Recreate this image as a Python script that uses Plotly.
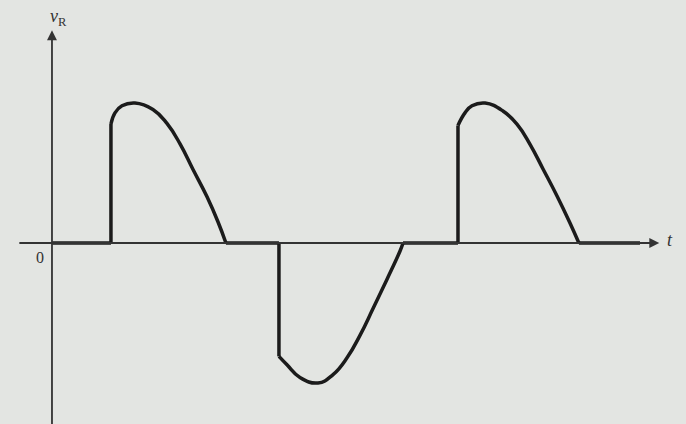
import plotly.graph_objects as go

# waveform (t in ms, v_R relative to peak)
t_flat1 = [0.0, 3.37]
t_hump1 = [3.37, 3.37, 3.6, 4.0, 4.74, 5.77, 6.57, 7.31, 8.06, 8.86, 9.49, 9.94]
v_hump1 = [0.0, 0.85, 0.93, 0.98, 1.0, 0.954, 0.854, 0.71, 0.525, 0.33, 0.15, 0.0]

t_flat2 = [9.94, 12.97]
t_neg = [12.97, 12.97, 13.43, 14.17, 15.2, 16.06, 16.86, 17.6, 18.34, 19.14, 19.89, 20.06]
v_neg = [0.0, -0.81, -0.87, -0.96, -1.0, -0.94, -0.82, -0.66, -0.47, -0.26, -0.057, 0.0]

t_flat3 = [20.06, 23.2]
t_hump2 = [23.2, 23.2, 23.6, 24.0, 24.75, 25.77, 26.57, 27.31, 28.06, 28.86, 29.6, 30.11]
v_hump2 = [0.0, 0.84, 0.93, 0.98, 1.0, 0.943, 0.85, 0.707, 0.529, 0.336, 0.143, 0.0]

t_flat4 = [30.11, 33.6]

ink = "#1b1b1b"
bg = "#e3e5e2"

fig = go.Figure()

# flat parts on the time axis
for tf in [t_flat1, t_flat2, t_flat3, t_flat4]:
    fig.add_trace(go.Scatter(x=tf, y=[0, 0], mode="lines",
                             line=dict(color=ink, width=3.5)))

# vertical jumps at firing (linear), then the curved part (spline)
for ts, vs in [(t_hump1, v_hump1), (t_neg, v_neg), (t_hump2, v_hump2)]:
    fig.add_trace(go.Scatter(x=ts[:2], y=vs[:2], mode="lines",
                             line=dict(color=ink, width=3.5)))
    fig.add_trace(go.Scatter(x=ts[1:], y=vs[1:], mode="lines",
                             line=dict(color=ink, width=3.5, shape="spline", smoothing=1.3)))

# axes with arrows
fig.add_annotation(x=0, y=1.52, ax=0, ay=-1.32, xref="x", yref="y", axref="x", ayref="y",
                   text="", showarrow=True, arrowhead=2, arrowsize=1.1, arrowwidth=1.8, arrowcolor="#333")
fig.add_annotation(x=34.7, y=0, ax=-1.95, ay=0, xref="x", yref="y", axref="x", ayref="y",
                   text="", showarrow=True, arrowhead=2, arrowsize=1.1, arrowwidth=1.8, arrowcolor="#333")

lab = dict(family="Liberation Serif, DejaVu Serif, serif", color="#333")
fig.add_annotation(x=0.35, y=1.61, text="<i>v</i><sub>R</sub>", showarrow=False,
                   font=dict(size=18, **lab))
fig.add_annotation(x=35.3, y=0.02, text="<i>t</i>", showarrow=False,
                   font=dict(size=18, **lab))
fig.add_annotation(x=-0.7, y=-0.1, text="0", showarrow=False,
                   font=dict(size=16, **lab))

fig.update_layout(
    width=686, height=424,
    margin=dict(l=0, r=0, t=0, b=0),
    paper_bgcolor=bg, plot_bgcolor=bg,
    showlegend=False,
    xaxis=dict(range=[-2.97, 36.23], visible=False),
    yaxis=dict(range=[-1.293, 1.736], visible=False),
)

fig.write_html("out.html", config={"displayModeBar": False},
               post_script="document.body.style.margin='0';")
